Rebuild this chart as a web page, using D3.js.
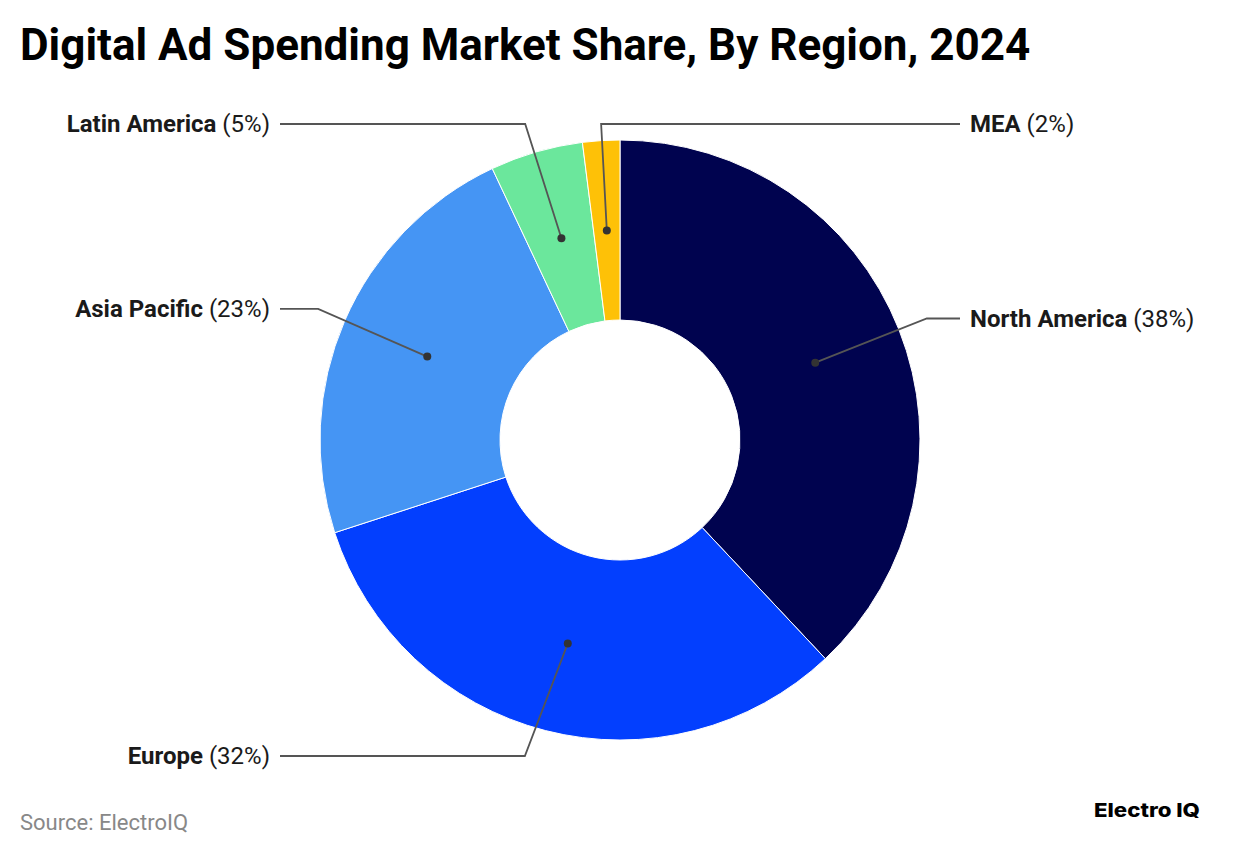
<!DOCTYPE html>
<html lang="en">
<head>
<meta charset="UTF-8">
<title>Digital Ad Spending Market Share, By Region, 2024</title>
<script src="https://cdnjs.cloudflare.com/ajax/libs/d3/7.8.5/d3.min.js"></script>
<style>
    body { margin: 0; background: #fff; }
    svg { display: block; font-family: Roboto, sans-serif; }
</style>
</head>
<body>
<script>
    const regions = ['North America', 'Europe', 'Asia Pacific', 'Latin America', 'MEA'];
    const shares = [38, 32, 23, 5, 2];
    const colors = ['#00034f', '#033ffe', '#4595f4', '#6be79c', '#fec107'];

    const width = 1240, height = 856;
    const cx = 620, cy = 440, outer = 300, inner = 120;

    // leader lines: elbow sits on a ring outside the pie, labels stay within maxLabelOffset of the centre
    const elbowRadius = 330;
    const maxLabelOffset = 316;
    const labelSides = ['right', 'left', 'left', 'left', 'right'];
    const elbowNudge = [0, -14, 1, -3, 1];
    const lineEnd = { left: 280, right: 960 };

    const svg = d3.select('body').append('svg')
        .attr('width', width)
        .attr('height', height);

    svg.append('text')
        .attr('x', 20).attr('y', 60)
        .attr('font-size', 44).attr('font-weight', 700)
        .attr('fill', '#000')
        .text('Digital Ad Spending Market Share, By Region, 2024');

    const pie = d3.pie().sort(null)(shares);
    const arc = d3.arc().innerRadius(inner).outerRadius(outer);

    const chart = svg.append('g').attr('transform', `translate(${cx},${cy})`);
    chart.selectAll('path')
        .data(pie)
        .join('path')
        .attr('d', arc)
        .attr('fill', (d, i) => colors[i])
        .attr('stroke', '#fff')
        .attr('stroke-width', 1);

    const labels = svg.append('g');
    pie.forEach((d, i) => {
        const mid = (d.startAngle + d.endAngle) / 2;
        const [dx, dy] = arc.centroid(d);
        const dot = [cx + dx, cy + dy];

        let ex = elbowRadius * Math.sin(mid);
        let ey = -elbowRadius * Math.cos(mid);
        if (Math.abs(ey) > maxLabelOffset) {
            ey = Math.sign(ey) * maxLabelOffset;
            ex = -ey * Math.tan(mid);
        }
        const elbow = [cx + ex + elbowNudge[i], cy + ey];

        const side = labelSides[i];
        labels.append('polyline')
            .attr('points', [dot, elbow, [lineEnd[side], elbow[1]]].map(p => p.join(',')).join(' '))
            .attr('fill', 'none')
            .attr('stroke', '#555')
            .attr('stroke-width', 1.8);
        labels.append('circle')
            .attr('cx', dot[0]).attr('cy', dot[1]).attr('r', 4)
            .attr('fill', '#333');
        const t = labels.append('text')
            .attr('x', side === 'right' ? lineEnd[side] + 10 : lineEnd[side] - 10)
            .attr('y', elbow[1] + 8)
            .attr('text-anchor', side === 'right' ? 'start' : 'end')
            .attr('font-size', 24)
            .attr('fill', '#1a1a1a');
        t.append('tspan').attr('font-weight', 700).text(regions[i]);
        t.append('tspan').text(` (${shares[i]}%)`);
    });

    svg.append('text')
        .attr('x', 20).attr('y', 830)
        .attr('font-size', 22)
        .attr('fill', '#888')
        .text('Source: ElectroIQ');

    svg.append('text')
        .attr('x', 1094).attr('y', 817)
        .attr('font-family', 'Inter, sans-serif')
        .attr('font-size', 19).attr('font-weight', 800)
        .attr('textLength', 106)
        .attr('lengthAdjust', 'spacingAndGlyphs')
        .attr('fill', '#000')
        .text('Electro IQ');
</script>
</body>
</html>
